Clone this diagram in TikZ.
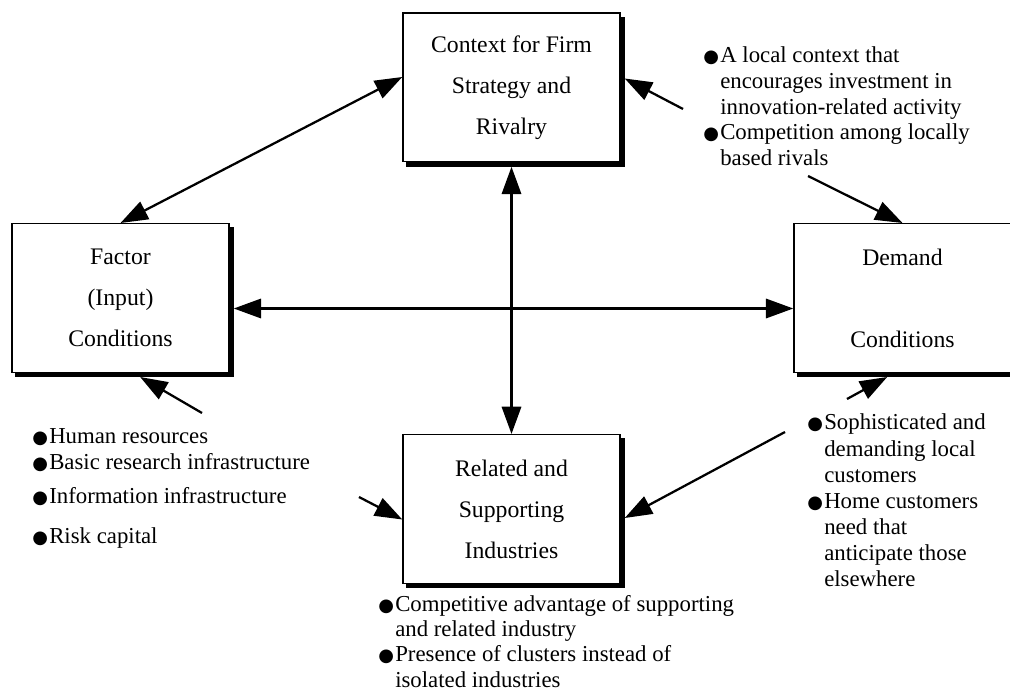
\documentclass[tikz,border=0pt]{standalone}
\usepackage{fontspec}
\setmainfont{Liberation Serif}
\newfontfamily\bulfont{DejaVu Sans}
\usetikzlibrary{arrows.meta,calc,shadows}
\newcommand\bl{\makebox[12.75pt][l]{{\bulfont\fontsize{13.5pt}{13.5pt}\selectfont ●}}}
\newcommand\ind{\hspace*{12.75pt}}
\newcommand\blist[2]{\vtop{\baselineskip=#1\lineskiplimit=-20pt\lineskip=0pt #2}}
\begin{document}
\begin{tikzpicture}[x=0.75pt,y=-0.75pt,
  box/.style={draw, line width=1.1pt, fill=white, minimum width=162.75pt,
    minimum height=111.4pt, inner sep=0pt, align=center,
    font=\fontsize{17.8pt}{30.75pt}\selectfont,
    general shadow={fill=black, draw=black, shadow xshift=3pt, shadow yshift=-3.2pt}},
  lst/.style={anchor=base west, inner sep=0pt, font=\fontsize{17.1pt}{19.35pt}\selectfont},
  ar/.style={-{Triangle[length=20.5pt,width=14.5pt]}, line width=1.7pt},
  dbl/.style={{Triangle[length=20.5pt,width=14.5pt]}-{Triangle[length=20.5pt,width=14.5pt]}, line width=1.7pt}]
\useasboundingbox (0,0) rectangle (1010,691);

% boxes
\node[box] (top) at (511.5,87.5) {Context for Firm\\Strategy and\\Rivalry};
\node[box] (lft) at (120.5,298) {Factor\\(Input)\\Conditions};
\node[box] (rgt) at (902.5,298) {Demand\\[30.75pt]Conditions};
\node[box] (bot) at (511.5,509) {Related and\\Supporting\\Industries};

% bullet lists
\node[lst] (ctxlist) at (703,62.5) {\blist{19.35pt}{%
  \hbox{\bl A local context that}%
  \hbox{\ind encourages investment in}%
  \hbox{\ind innovation-related activity}%
  \hbox{\bl Competition among locally}%
  \hbox{\ind based rivals}}};

\node[lst] (f1) at (32,443) {\bl Human resources};
\node[lst] (f2) at (32,469) {\bl Basic research infrastructure};
\node[lst] (f3) at (32,503) {\bl Information infrastructure};
\node[lst] (f4) at (32,543) {\bl Risk capital};

\node[lst] (dlist) at (807,430) {\blist{19.6pt}{%
  \hbox{\bl Sophisticated and}%
  \hbox{\ind demanding local}%
  \hbox{\ind customers}%
  \hbox{\bl Home customers}%
  \hbox{\ind need that}%
  \hbox{\ind anticipate those}%
  \hbox{\ind elsewhere}}};

\node[lst] (rlist) at (378,611) {\blist{19.05pt}{%
  \hbox{\bl Competitive advantage of supporting}%
  \hbox{\ind and related industry}%
  \hbox{\bl Presence of clusters instead of}%
  \hbox{\ind isolated industries}}};

% double arrows between boxes
\coordinate (tl) at ($(top.north west)!0.43!(top.south west)$);
\draw[dbl] (tl) -- (lft.north);
\draw[dbl] ([yshift=-3.2pt]top.south) -- (bot.north);
\coordinate (h1) at ($(lft.north east)!0.57!(lft.south east)+(4,0)$);
\draw[dbl] (h1) -- (h1 -| rgt.west);

% single arrows from lists
\coordinate (c1) at (683,109);
\draw[ar] (c1) -- ($(top.north east)!0.44!(top.south east)+(4,0)$);
\coordinate (c2) at (808,176);
\draw[ar] (c2) -- (rgt.north);
\coordinate (c3) at (202,413);
\draw[ar] (c3) -- ($(lft.south west)!0.59!(lft.south east)+(0,4)$);
\coordinate (c4) at (359,497);
\draw[ar] (c4) -- ($(bot.north west)!0.57!(bot.south west)$);
\coordinate (c5) at (785,432);
\draw[ar] (c5) -- ($(bot.north east)!0.56!(bot.south east)+(4,0)$);
\coordinate (c6) at (847,399);
\draw[ar] (c6) -- ($(rgt.south west)!0.43!(rgt.south east)+(0,4)$);
\end{tikzpicture}
\end{document}
